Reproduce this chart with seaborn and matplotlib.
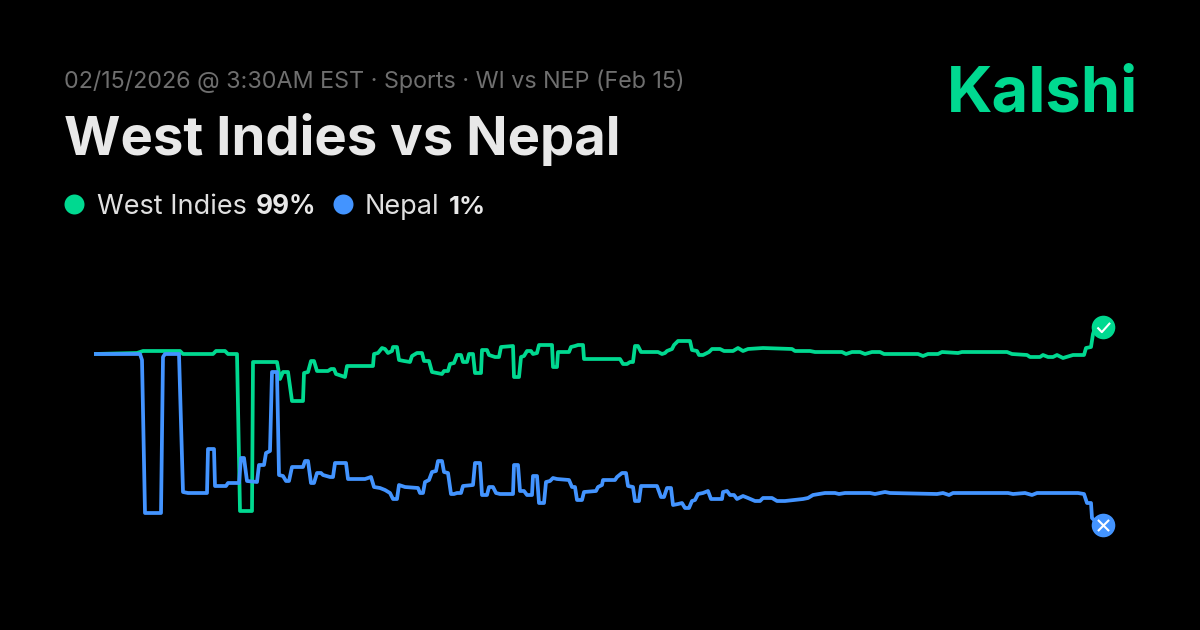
#!/usr/bin/env python
# -*- coding: utf-8 -*-

import pandas as pd
import matplotlib
matplotlib.use("Agg")
import matplotlib.pyplot as plt
import seaborn as sns
from matplotlib.path import Path

# ==========================
# Data (time step, chance in %)
# ==========================
wi_t = [0, 43, 49, 86, 89, 119, 122, 131, 134, 143, 146, 158, 159, 183, 186, 189, 194, 198, 209, 210,
        214, 217, 220, 223, 234, 237, 240, 242, 248, 251, 253, 279, 280, 284, 288, 291, 294, 298, 299, 303,
        305, 310, 316, 318, 323, 328, 330, 335, 338, 343, 348, 350, 354, 356, 360, 363, 367, 369, 373, 375,
        379, 381, 387, 388, 393, 395, 401, 405, 407, 419, 420, 425, 427, 430, 433, 437, 439, 443, 445, 458,
        459, 463, 464, 475, 477, 481, 484, 489, 490, 523, 526, 529, 533, 536, 539, 541, 544, 547, 564, 568,
        571, 573, 578, 580, 584, 596, 598, 603, 605, 609, 615, 618, 626, 630, 639, 644, 649, 654, 669, 698,
        701, 716, 721, 748, 752, 758, 766, 771, 778, 786, 790, 824, 829, 834, 844, 848, 864, 868, 913, 918,
        933, 936, 946, 949, 954, 959, 963, 969, 979, 990, 992, 997, 999, 1001, 1009]
wi_v = [86.5, 87, 88, 88, 86.5, 86.5, 88, 88, 86.5, 86.5, 8, 8, 82.5, 82.5, 74, 77.5, 77.5, 63, 63, 77,
        77.5, 83, 83, 78, 78, 79, 79, 76.5, 75.5, 75, 80.5, 80.5, 86.5, 87, 89.5, 89, 87, 88, 90, 90,
        83.5, 83, 82.5, 85.5, 87, 87, 83, 83, 77.5, 77, 76.5, 78, 78, 81.5, 82, 86, 86, 82.5, 82.5, 86.5,
        86.5, 77, 77, 88.5, 88.5, 86, 85, 85, 90, 90.5, 75, 75, 85, 85.5, 88, 88, 86.5, 87, 91, 91,
        80, 80, 87.5, 87.5, 90, 90.5, 91, 91, 84, 84, 84, 81.5, 81.5, 82.5, 82.5, 90.5, 90.5, 87.5, 87.5, 86.5,
        87, 88, 89, 91, 93, 93, 88.5, 88, 86, 86, 87.5, 89, 89, 88, 88, 89.5, 88, 89, 89.5, 89,
        88, 88, 87.5, 87.5, 86.5, 87.5, 87.5, 86.5, 87.5, 87.5, 86.5, 86.5, 85.5, 86.5, 86.5, 87.5, 87, 87.5, 87.5, 86.5,
        86, 85, 85, 86, 85, 85, 86, 84.5, 86, 86, 89.5, 90, 96.5, 99.5, 100]

nep_t = [0, 46, 48, 51, 67, 69, 71, 85, 89, 94, 113, 114, 120, 121, 132, 134, 145, 147, 150, 153,
         163, 165, 170, 172, 176, 178, 183, 185, 189, 192, 195, 198, 209, 211, 214, 217, 220, 223, 227, 229,
         236, 239, 241, 252, 254, 271, 277, 280, 286, 291, 296, 299, 303, 305, 311, 324, 326, 329, 331, 335,
         338, 342, 344, 348, 350, 354, 357, 360, 363, 367, 369, 379, 381, 386, 388, 393, 395, 399, 402, 406,
         419, 420, 424, 426, 430, 433, 438, 439, 443, 445, 450, 452, 456, 459, 463, 475, 478, 481, 483, 488,
         490, 502, 504, 508, 509, 521, 523, 528, 532, 534, 539, 541, 545, 547, 563, 567, 570, 573, 577, 579,
         584, 588, 591, 595, 598, 601, 604, 609, 614, 617, 628, 629, 633, 636, 640, 643, 649, 654, 661, 666,
         669, 678, 683, 691, 709, 714, 719, 731, 741, 745, 751, 776, 781, 791, 796, 843, 849, 855, 859, 914,
         919, 931, 938, 943, 984, 990, 993, 997, 998, 1003, 1009]
nep_v = [86.5, 86.5, 83.5, 7, 7, 85, 86.5, 86.5, 17.5, 17, 17, 39, 39, 20.5, 20.5, 22, 22, 34.5, 34.5, 23,
         22.5, 31, 31, 37, 38, 77.5, 77.5, 26, 25.5, 23, 23, 30, 30, 33, 33, 22, 22, 27, 27, 26,
         25, 25, 32, 32, 24, 24, 25, 20, 19.5, 18.5, 17, 14, 14, 21, 20, 19.5, 17, 17, 22.5, 23.5,
         27.5, 28, 33, 33, 27.5, 27, 16.5, 16.5, 17, 17, 20.5, 21, 32, 32, 16, 16, 20, 20, 17, 16.5,
         16.5, 31, 31, 18, 18, 16, 16, 25.5, 25.5, 12, 12, 22.5, 23, 24.5, 24, 23.5, 20, 20, 13.5, 13.5,
         17.5, 18, 20, 21, 23.5, 23.5, 25, 27, 27, 20.5, 20, 13, 13, 20.5, 20.5, 15, 15, 19.5, 19.5, 11,
         11.5, 12, 9.5, 9.5, 13, 13.5, 16.5, 17, 18, 14, 14, 17.5, 18, 16, 16, 14, 15.5, 14.5, 13, 13,
         14.5, 14.5, 13, 13, 14, 14.5, 16, 17, 17, 16.5, 17, 17, 16.5, 17.5, 17, 16.5, 17, 16, 17, 17,
         16.5, 17, 16, 17, 17, 16.5, 12, 12, 4.5, 2, 1]

outcomes = ["West Indies", "Nepal"]
labels_pct = ["99%", "1%"]
subtitle = "02/15/2026 @ 3:30AM EST · Sports · WI vs NEP (Feb 15)"
title = "West Indies vs Nepal"
brand = "Kalshi"

GREEN = "#00D990"
BLUE = "#4394FF"
W, H = 1200, 630

df = pd.concat([
    pd.DataFrame({"t": wi_t, "chance": wi_v, "outcome": outcomes[0]}),
    pd.DataFrame({"t": nep_t, "chance": nep_v, "outcome": outcomes[1]}),
])

sns.set_theme(style="white", rc={"figure.facecolor": "black", "axes.facecolor": "none"})
plt.rcParams["font.family"] = ["Inter", "DejaVu Sans"]

fig = plt.figure(figsize=(W / 100, H / 100), dpi=100, facecolor="black")


def fx(px):
    return px / W


def fy(py):
    return 1 - py / H


# ==========================
# Chart
# ==========================
# top of axes = 100 % at y=327 px, bottom = 0 % at y=527 px, left = step 0 at x=94 px
ax = fig.add_axes([fx(94), fy(527), 1009 / W, 200 / H])
sns.lineplot(data=df, x="t", y="chance", hue="outcome", hue_order=outcomes,
             palette=[GREEN, BLUE], estimator=None, sort=False, legend=False, ax=ax)
for line in ax.get_lines():
    line.set_linewidth(2.7)
    line.set_solid_joinstyle("round")
    line.set_solid_capstyle("butt")
    line.set_clip_on(False)
ax.set_xlim(0, 1009)
ax.set_ylim(0, 100)
ax.set_axis_off()

# end markers
check = Path([(-0.55, 0.0), (-0.15, -0.42), (0.6, 0.42)])
cross = Path([(-0.5, -0.5), (0.5, 0.5), (-0.5, 0.5), (0.5, -0.5)],
             [Path.MOVETO, Path.LINETO, Path.MOVETO, Path.LINETO])
ax.plot(wi_t[-1], wi_v[-1], "o", ms=17, mfc=GREEN, mec="none", clip_on=False, zorder=5)
ax.plot(nep_t[-1], nep_v[-1], "o", ms=17, mfc=BLUE, mec="none", clip_on=False, zorder=5)
ax.plot(wi_t[-1], wi_v[-1], marker=check, ms=9.5, mfc="none", mec="white", mew=1.5, clip_on=False, zorder=6)
ax.plot(nep_t[-1], nep_v[-1], marker=cross, ms=8, mfc="none", mec="white", mew=1.5, clip_on=False, zorder=6)

# ==========================
# Header
# ==========================
fig.text(fx(64), fy(88), subtitle, color="#6F6F6F", fontsize=16.8, va="baseline")
fig.text(fx(64), fy(155), title, color="#E8E8E8", fontsize=39.2, fontweight="bold", va="baseline")
fig.text(fx(947), fy(112), brand, color=GREEN, fontsize=45.5, fontweight="bold", va="baseline")

fig.text(fx(97), fy(214), outcomes[0], color="#E0E0E0", fontsize=19.5, va="baseline")
fig.text(fx(256), fy(214), labels_pct[0], color="#E8E8E8", fontsize=18.8, fontweight="bold", va="baseline")
fig.text(fx(365), fy(214), outcomes[1], color="#E0E0E0", fontsize=19.5, va="baseline")
fig.text(fx(449), fy(214), labels_pct[1], color="#E8E8E8", fontsize=18.5, fontweight="bold", va="baseline")

overlay = fig.add_axes([0, 0, 1, 1], facecolor="none")
overlay.set_xlim(0, W)
overlay.set_ylim(H, 0)
overlay.set_axis_off()
overlay.scatter([74], [204], s=207, color=GREEN, linewidths=0)
overlay.scatter([343], [204], s=207, color=BLUE, linewidths=0)

fig.savefig("out.png", dpi=100, facecolor="black")
